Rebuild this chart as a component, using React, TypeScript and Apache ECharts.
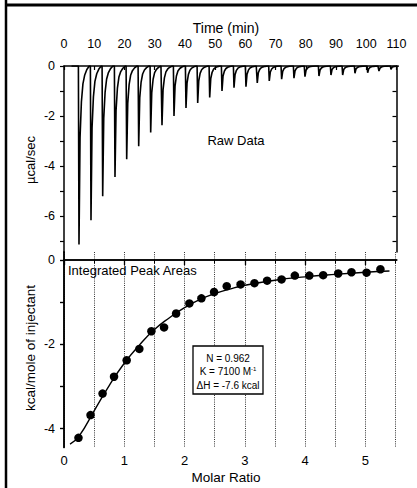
import React, { useEffect, useRef } from 'react';
import * as echarts from 'echarts';

// ---------- Raw data (top panel) ----------
const peakTimes = [4.96, 8.93, 12.8, 16.87, 20.74, 24.71, 28.68, 32.42, 36.39, 40.36, 44.23, 48.2, 52.27, 56.24, 60.2, 63.94, 67.91, 72.0, 76.08, 79.72, 84.35, 88.32, 92.19, 96.26, 100.46, 104.2, 108.17];
const peakDepths = [-7.15, -6.18, -5.22, -4.45, -3.73, -3.21, -2.66, -2.37, -2.0, -1.68, -1.48, -1.26, -1.0, -0.87, -0.83, -0.68, -0.6, -0.53, -0.49, -0.43, -0.4, -0.36, -0.36, -0.29, -0.27, -0.2, -0.13];
// shape of one injection peak: time offset (min) and fraction of depth
const peakShapeOffsets = [-0.2, 0, 0.35, 0.8, 1.3, 1.9, 2.6, 3.4];
const peakShapeFractions = [0, 1, 0.4, 0.2, 0.1, 0.05, 0.02, 0];
const rawStartTime = 2.5;
const rawEndTime = 109.8;
const rawBaseline = 0;

const timeTicks = [0, 10, 20, 30, 40, 50, 60, 70, 80, 90, 100, 110];
const rawYTicks = [0, -1, -2, -3, -4, -5, -6, -7];
const rawYLabels = [0, -2, -4, -6];

// ---------- Integrated peak areas (bottom panel) ----------
const molarRatio = [0.24, 0.44, 0.64, 0.83, 1.04, 1.25, 1.45, 1.66, 1.86, 2.08, 2.28, 2.49, 2.7, 2.93, 3.16, 3.37, 3.61, 3.83, 4.07, 4.3, 4.55, 4.77, 5.02, 5.25];
const heat = [-4.22, -3.68, -3.17, -2.77, -2.38, -2.11, -1.69, -1.6, -1.27, -1.03, -0.91, -0.76, -0.62, -0.58, -0.55, -0.49, -0.46, -0.37, -0.37, -0.36, -0.32, -0.29, -0.3, -0.22];
const fitX = [0.1, 0.25, 0.5, 0.75, 1.0, 1.25, 1.5, 1.75, 2.0, 2.25, 2.5, 2.75, 3.0, 3.5, 4.0, 4.5, 5.0, 5.4];
const fitY = [-4.37, -4.18, -3.58, -2.98, -2.45, -2.02, -1.65, -1.37, -1.13, -0.94, -0.8, -0.69, -0.6, -0.48, -0.4, -0.34, -0.29, -0.26];
const ratioTicks = [0, 1, 2, 3, 4, 5];
const heatYTicks = [0, -1, -2, -3, -4];
const heatYLabels = [0, -2, -4];

const fitN = 'N = 0.962';
const fitK = 'K = 7100 M';
const fitKExp = '-1';
const fitH = 'ΔH = -7.6 kcal';

const FONT = '"Liberation Sans", Arial, Helvetica, sans-serif';

function buildRaw(): number[][] {
  const out: number[][] = [[rawStartTime, rawBaseline]];
  peakTimes.forEach((t, i) => {
    const d = peakDepths[i];
    peakShapeOffsets.forEach((off, k) => {
      out.push([t + off, rawBaseline + d * peakShapeFractions[k]]);
    });
  });
  out.push([rawEndTime, rawBaseline]);
  return out;
}

export default function App() {
  const ref = useRef<HTMLDivElement>(null);
  useEffect(() => {
    const chart = echarts.init(ref.current!, null, { renderer: 'svg' });
    const axisLine = { show: true, lineStyle: { color: '#000', width: 1.5 } };
    const txt = (text: string, x: number, y: number, size: number, extra: any = {}) => ({
      type: 'text', x, y, z: 50, ...extra,
      style: { text, fontSize: size, fontFamily: FONT, fill: '#000', align: 'center', verticalAlign: 'middle', ...(extra.style || {}) },
    });
    const option: any = {
      animation: false,
      backgroundColor: '#fff',
      textStyle: { fontFamily: FONT, color: '#000' },
      grid: [
        { left: 64, top: 66, width: 332.5, height: 186, show: false },
        { left: 64, top: 252, width: 332.7, height: 195.5, show: false },
      ],
      xAxis: [
        {
          type: 'value', gridIndex: 0, position: 'top', min: 0, max: 110,
          axisLine,
          axisTick: { show: true, inside: true, length: 4, customValues: timeTicks, lineStyle: { color: '#000', width: 1.2 } },
          minorTick: { show: true, splitNumber: 2, length: 3, lineStyle: { color: '#000', width: 1 } },
          axisLabel: { customValues: timeTicks, fontSize: 12.5, color: '#000', margin: 16, fontFamily: FONT },
          splitLine: { show: false },
        },
        {
          type: 'value', gridIndex: 1, position: 'bottom', min: 0, max: 5.52,
          axisLine,
          axisTick: { show: true, inside: false, length: 5, customValues: ratioTicks, lineStyle: { color: '#000', width: 1.3 } },
          minorTick: { show: true, splitNumber: 2, length: 3, lineStyle: { color: '#000', width: 1 } },
          axisLabel: { customValues: ratioTicks, fontSize: 13, color: '#000', margin: 6, fontFamily: FONT },
          splitLine: { show: true, lineStyle: { color: '#333', width: 1, type: [1, 1.2] } },
          minorSplitLine: { show: true, lineStyle: { color: '#333', width: 1, type: [1, 1.2] } },
        },
        {
          type: 'value', gridIndex: 1, position: 'top', min: 0, max: 5.52,
          axisLine,
          axisTick: { show: false }, axisLabel: { show: false }, splitLine: { show: false },
        },
      ],
      yAxis: [
        {
          type: 'value', gridIndex: 0, position: 'left', min: -7.45, max: 0,
          axisLine,
          axisTick: { show: true, inside: false, length: 4, customValues: rawYTicks, lineStyle: { color: '#000', width: 1.2 } },
          axisLabel: { customValues: rawYLabels, fontSize: 12.5, color: '#000', margin: 9, fontFamily: FONT },
          splitLine: { show: false },
        },
        {
          type: 'value', gridIndex: 0, position: 'right', min: -7.45, max: 0,
          axisLine,
          axisTick: { show: true, inside: true, length: 4, customValues: rawYTicks, lineStyle: { color: '#000', width: 1.2 } },
          axisLabel: { show: false }, splitLine: { show: false },
        },
        {
          type: 'value', gridIndex: 1, position: 'left', min: -4.45, max: 0.19,
          axisLine,
          axisTick: { show: true, inside: false, length: 4, customValues: heatYTicks, lineStyle: { color: '#000', width: 1.2 } },
          axisLabel: { customValues: heatYLabels, fontSize: 12.5, color: '#000', margin: 9, fontFamily: FONT },
          splitLine: { show: false },
        },
        {
          type: 'value', gridIndex: 1, position: 'right', min: -4.45, max: 0.19,
          axisLine,
          axisTick: { show: true, inside: true, length: 4, customValues: heatYTicks, lineStyle: { color: '#000', width: 1.2 } },
          axisLabel: { show: false }, splitLine: { show: false },
        },
      ],
      series: [
        {
          type: 'line', xAxisIndex: 0, yAxisIndex: 0, data: buildRaw(),
          showSymbol: false, smooth: false,
          lineStyle: { color: '#000', width: 1.6 }, z: 3,
        },
        {
          type: 'line', xAxisIndex: 1, yAxisIndex: 2,
          data: fitX.map((x, i) => [x, fitY[i]]),
          showSymbol: false, smooth: true,
          lineStyle: { color: '#000', width: 1.4 }, z: 3,
        },
        {
          type: 'scatter', xAxisIndex: 1, yAxisIndex: 2,
          data: molarRatio.map((x, i) => [x, heat[i]]),
          symbol: 'circle', symbolSize: 8.5,
          itemStyle: { color: '#000', opacity: 1 }, z: 4,
        },
      ],
      graphic: [
        { type: 'line', z: 60, shape: { x1: 6, y1: 0, x2: 6, y2: 488 }, style: { stroke: '#000', lineWidth: 2.5 } },
        { type: 'line', z: 60, shape: { x1: 5, y1: 5, x2: 417, y2: 5 }, style: { stroke: '#000', lineWidth: 3 } },
        txt('Time (min)', 226, 27.5, 14),
        txt('Raw Data', 236, 140, 13),
        txt('µcal/sec', 30, 160, 13, { rotation: Math.PI / 2 }),
        txt('Integrated Peak Areas', 68, 270, 13, { style: { align: 'left' } }),
        txt('kcal/mole of injectant', 30, 348, 13.5, { rotation: Math.PI / 2 }),
        txt('Molar Ratio', 226, 477, 13.5),
        { type: 'rect', z: 100, shape: { x: 193, y: 346, width: 70, height: 48 }, style: { fill: '#fff', stroke: '#000', lineWidth: 1.3 } },
        { type: 'text', z: 101, x: 228, y: 358, style: { text: fitN, fontSize: 10, fontFamily: FONT, fill: '#000', align: 'center', verticalAlign: 'middle' } },
        {
          type: 'text', z: 101, x: 228, y: 371.5,
          style: {
            text: '{k|' + fitK + '}{e|' + fitKExp + '}',
            fontFamily: FONT, fill: '#000', align: 'center', verticalAlign: 'middle',
            rich: {
              k: { fontSize: 10, fontFamily: FONT, fill: '#000', lineHeight: 12 },
              e: { fontSize: 6, fontFamily: FONT, fill: '#000', verticalAlign: 'top', lineHeight: 12, padding: [0, 0, 6, 0] },
            },
          },
        },
        { type: 'text', z: 101, x: 228, y: 385, style: { text: fitH, fontSize: 10, fontFamily: FONT, fill: '#000', align: 'center', verticalAlign: 'middle' } },
      ],
    };
    chart.setOption(option);
    return () => chart.dispose();
  }, []);
  return <div ref={ref} style={{ position: 'fixed', left: 0, top: 0, width: 417, height: 488, background: '#fff' }} />;
}
